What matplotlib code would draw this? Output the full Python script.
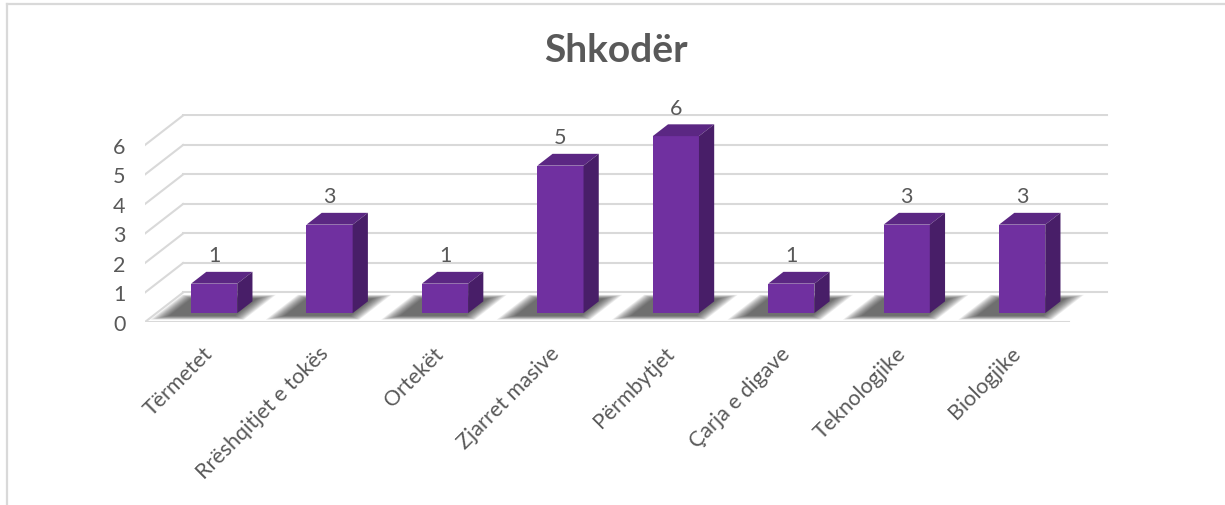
import matplotlib.pyplot as plt
from matplotlib.patches import Polygon
from matplotlib.lines import Line2D

categories = ['Tërmetet', 'Rrëshqitjet e tokës', 'Ortekët', 'Zjarret masive',
              'Përmbytjet', 'Çarja e digave', 'Teknologjike', 'Biologjike']
values = [1, 3, 1, 5, 6, 1, 3, 3]
y_ticks = [0, 1, 2, 3, 4, 5, 6]
title = 'Shkodër'

# fake 3d: depth of floor in (category units, value units)
DX, DY = 0.33, 1.0
BAR_W = 0.4
BAR_D0, BAR_D1 = 0.3, 0.7   # bar sits between these depth fractions

front = '#7030a0'
top_c = '#5b2783'
side_c = '#481e68'
grid_c = '#d9d9d9'
text_c = '#595959'

plt.rcParams['font.family'] = ['Lato', 'DejaVu Sans']

fig = plt.figure(figsize=(12.25, 5.06), dpi=100)
ax = fig.add_axes([145 / 1225, (506 - 323) / 506, 965 / 1225, 208 / 506])
n = len(categories)
ax.set_xlim(-0.5, n - 0.5 + DX + 0.03)
ax.set_ylim(0, max(y_ticks) + DY + 0.05)

# back wall gridlines + left wall diagonals
x_left = -0.5
for v in y_ticks:
    ax.plot([x_left + DX, n - 0.5 + DX], [v + DY, v + DY], color=grid_c, lw=1.5, zorder=1)
    ax.plot([x_left, x_left + DX], [v, v + DY], color=grid_c, lw=1.5, zorder=1)
# floor front edge
ax.plot([x_left, n - 0.5], [0, 0], color=grid_c, lw=2.2, zorder=1)

# soft shadows on the floor, cast a little to the front-left
layers = 12
for i in range(n):
    for k in range(layers):
        f = 1 - k / layers
        ex = 0.13 * f
        ed = 0.14 * f
        d0 = max(0.03, 0.22 - ed)
        d1 = min(0.98, 0.78 + ed)
        xl = i - BAR_W / 2 - 0.15 - ex
        xr = i + BAR_W / 2 + 0.0 + ex
        pts = [(xl + d0 * DX, d0 * DY), (xr + d0 * DX, d0 * DY),
               (xr + d1 * DX, d1 * DY), (xl + d1 * DX, d1 * DY)]
        ax.add_patch(Polygon(pts, closed=True, facecolor='#1e1e1e',
                             edgecolor='none', alpha=0.08, zorder=2))

# bars: front faces through ax.bar, top and side faces as polygons
xs = [i + BAR_D0 * DX for i in range(n)]
base = BAR_D0 * DY
ax.bar(xs, values, width=BAR_W, bottom=base, color=front, zorder=4)
ddx = (BAR_D1 - BAR_D0) * DX
ddy = (BAR_D1 - BAR_D0) * DY
for x, v in zip(xs, values):
    x0, x1 = x - BAR_W / 2, x + BAR_W / 2
    t = base + v
    ax.add_patch(Polygon([(x0, t), (x1, t), (x1 + ddx, t + ddy), (x0 + ddx, t + ddy)],
                         closed=True, facecolor=top_c, edgecolor='none', zorder=4))
    ax.add_patch(Polygon([(x1, base), (x1 + ddx, base + ddy), (x1 + ddx, t + ddy), (x1, t)],
                         closed=True, facecolor=side_c, edgecolor='none', zorder=4))
    ax.text(x, t + ddy + 0.22, str(v), ha='center', va='bottom',
            fontsize=15.5, color=text_c, zorder=5)

ax.set_yticks(y_ticks)
ax.set_yticklabels([str(v) for v in y_ticks], fontsize=15.5, color=text_c)
ax.set_xticks(range(n))
ax.set_xticklabels(categories, rotation=45, ha='right', rotation_mode='anchor',
                   fontsize=15.5, color=text_c)
ax.tick_params(axis='y', length=0, pad=14)
ax.tick_params(axis='x', length=0, pad=15)
for s in ax.spines.values():
    s.set_visible(False)
ax.set_facecolor('none')

fig.text(616 / 1225, 1 - 50 / 506, title, ha='center', va='center',
         fontsize=28, fontweight='bold', color=text_c)

# chart frame
fig.add_artist(Line2D([7 / 1225, 1], [1 - 5 / 506, 1 - 5 / 506], color=grid_c, lw=1.6))
fig.add_artist(Line2D([7 / 1225, 7 / 1225], [0, 1 - 5 / 506], color=grid_c, lw=1.6))

plt.savefig('out.png', dpi=100)
